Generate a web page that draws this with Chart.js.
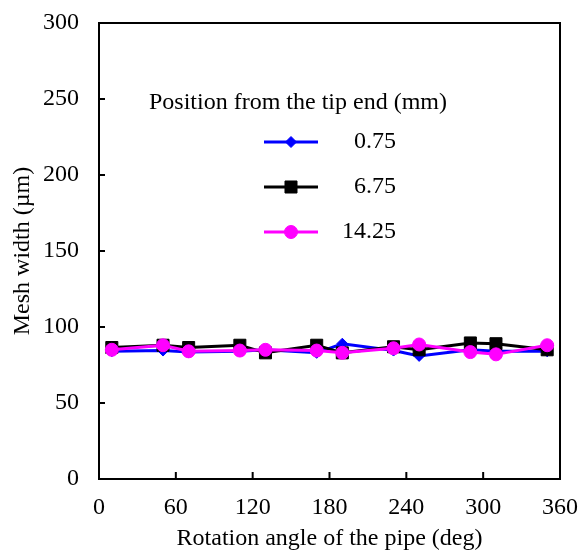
<!DOCTYPE html>
<html>
<head>
<meta charset="utf-8">
<script src="https://cdn.jsdelivr.net/npm/chart.js@4/dist/chart.umd.min.js"></script>
<style>
html,body{margin:0;padding:0;background:#fff;}
#wrap{width:580px;height:551px;position:relative;}
</style>
</head>
<body>
<div id="wrap"><canvas id="c" width="580" height="551"></canvas></div>
<script>
const angles = [10, 50, 70, 110, 130, 170, 190, 230, 250, 290, 310, 350];
const pos075 = [84, 84.5, 83.5, 84, 85, 83, 89, 84.5, 81, 85, 84, 84];
const pos675 = [86.5, 88, 86.5, 88, 83, 88, 83, 87, 85, 89.5, 89, 85];
const pos1425 = [85, 88, 84, 84.5, 85, 84.5, 83, 86, 88.5, 83.5, 82, 88];
const seriesLabels = ['0.75', '6.75', '14.25'];
const legendTitle = 'Position from the tip end (mm)';
const xTitle = 'Rotation angle of the pipe (deg)';
const yTitle = 'Mesh width (\u00b5m)';

const FONT = "'Liberation Serif', 'Times New Roman', serif";
const FS = 24;

function pts(vals){ return angles.map((a,i)=>({x:a,y:vals[i]})); }

const boxPlugin = {
  id:'box',
  afterDraw(chart){
    const ctx = chart.ctx, a = chart.chartArea;
    const xs = chart.scales.x, ys = chart.scales.y;
    ctx.save();
    ctx.strokeStyle = '#000';
    ctx.lineWidth = 2;
    ctx.strokeRect(a.left, a.top, a.right - a.left, a.bottom - a.top);
    ctx.beginPath();
    ys.ticks.forEach(t=>{
      const y = ys.getPixelForValue(t.value);
      ctx.moveTo(a.left, y); ctx.lineTo(a.left + 6, y);
    });
    xs.ticks.forEach(t=>{
      const x = xs.getPixelForValue(t.value);
      ctx.moveTo(x, a.bottom); ctx.lineTo(x, a.bottom - 7);
    });
    ctx.stroke();

    // legend
    ctx.font = FS + "px " + FONT;
    ctx.fillStyle = '#000';
    ctx.textBaseline = 'middle';
    ctx.textAlign = 'left';
    ctx.fillText(legendTitle, 149, 103);
    const rows = [142, 187, 232];
    chart.data.datasets.forEach((ds, i)=>{
      const y = rows[i];
      ctx.strokeStyle = ds.borderColor;
      ctx.lineWidth = 3;
      ctx.beginPath(); ctx.moveTo(264, y); ctx.lineTo(318, y); ctx.stroke();
      ctx.fillStyle = ds.backgroundColor;
      ctx.strokeStyle = ds.borderColor;
      ctx.lineWidth = 1;
      ctx.beginPath();
      const p = ds.pointStyle, r = ds.pointRadius;
      if (p === 'circle') { ctx.arc(291, y, r, 0, Math.PI*2); }
      else if (p === 'rect') { const s = r*Math.SQRT1_2; ctx.rect(291-s, y-s, 2*s, 2*s); }
      else { ctx.moveTo(291-r, y); ctx.lineTo(291, y-r); ctx.lineTo(291+r, y); ctx.lineTo(291, y+r); ctx.closePath(); }
      ctx.fill(); ctx.stroke();
      ctx.fillStyle = '#000';
      ctx.textAlign = 'right';
      ctx.fillText(seriesLabels[i], 396, y);
    });
    ctx.restore();
  }
};

new Chart(document.getElementById('c'), {
  type: 'line',
  data: {
    datasets: [
      {label: seriesLabels[0], data: pts(pos075), borderColor:'#0000ff', backgroundColor:'#0000ff', pointStyle:'rectRot', pointRadius:5.5, pointBorderWidth:1, borderWidth:3, order:3, tension:0},
      {label: seriesLabels[1], data: pts(pos675), borderColor:'#000000', backgroundColor:'#000000', pointStyle:'rect', pointRadius:8.5, pointBorderWidth:1, borderWidth:3, order:2, tension:0},
      {label: seriesLabels[2], data: pts(pos1425), borderColor:'#ff00ff', backgroundColor:'#ff00ff', pointStyle:'circle', pointRadius:6.5, pointBorderWidth:1, borderWidth:3, order:1, tension:0}
    ]
  },
  options: {
    responsive:false,
    animation:false,
    layout:{padding:{top:23, right:20, left:0, bottom:0}},
    plugins:{legend:{display:false}, tooltip:{enabled:false}},
    scales:{
      x:{
        type:'linear', min:0, max:360,
        ticks:{stepSize:60, color:'#000', font:{family:FONT, size:FS}, padding:14, maxRotation:0},
        grid:{display:false, drawTicks:false},
        border:{display:true, color:'#000', width:2},
        title:{display:true, text:xTitle, color:'#000', font:{family:FONT, size:FS, lineHeight:1.0}, padding:{top:2,bottom:0}},
        afterFit(s){ s.height = 72; s.paddingLeft = 0; s.paddingRight = 0; }
      },
      y:{
        type:'linear', min:0, max:300,
        ticks:{stepSize:50, color:'#000', font:{family:FONT, size:FS}, padding:20},
        grid:{display:false, drawTicks:false},
        border:{display:true, color:'#000', width:2},
        title:{display:true, text:yTitle, color:'#000', font:{family:FONT, size:FS}, padding:{top:8,bottom:0}},
        afterFit(s){ s.width = 99; s.paddingTop = 0; s.paddingBottom = 0; }
      }
    }
  },
  plugins:[boxPlugin]
});
</script>
</body>
</html>
